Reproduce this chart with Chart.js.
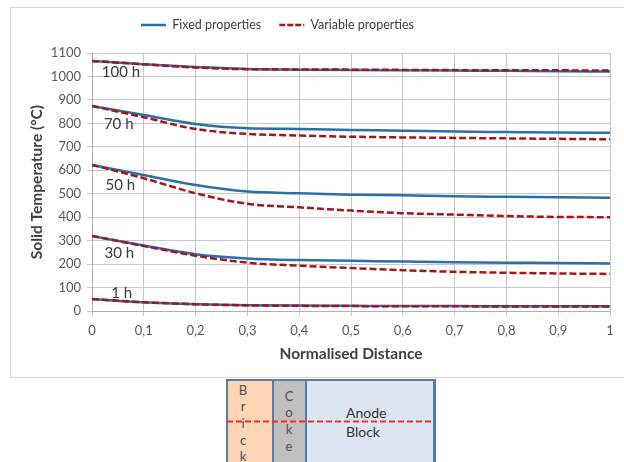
<!DOCTYPE html>
<html>
<head>
<meta charset="utf-8">
<script src="https://cdn.jsdelivr.net/npm/chart.js@4/dist/chart.umd.min.js"></script>
<style>
  html, body { margin: 0; padding: 0; background: #fff; width: 624px; height: 462px; overflow: hidden; position: relative; font-family: Lato, "Open Sans", sans-serif; }
  #frame { position: absolute; left: 10px; top: 7px; width: 640px; height: 369px; border: 1px solid #d9d9d9; }
  #wrap { position: absolute; left: 0; top: 0; width: 624px; height: 378px; }
  .box { position: absolute; top: 379px; height: 100px; box-sizing: border-box; border: 2px solid #5b7aa6; }
  .vl { position: absolute; width: 12px; text-align: center; font-size: 13px; color: #505050; }
  .dl { position: absolute; font-size: 14px; color: #333; }
</style>
</head>
<body>
<div id="frame"></div>
<div id="wrap"><canvas id="c" width="624" height="378"></canvas></div>

<!-- cross-section sketch under the chart -->
<div class="box" style="left:226px; width:48px; background:#fcd5b4;"></div>
<div class="box" style="left:272px; width:35px; background:#bfbfbf;"></div>
<div class="box" style="left:305px; width:131px; background:#dce6f2; border-right-width:3px;"></div>
<div class="vl" style="left:237px; top:382px;">B</div>
<div class="vl" style="left:237px; top:398px;">r</div>
<div class="vl" style="left:237px; top:415px;">i</div>
<div class="vl" style="left:237px; top:432px;">c</div>
<div class="vl" style="left:237px; top:448px;">k</div>
<div class="vl" style="left:283px; top:388px;">C</div>
<div class="vl" style="left:283px; top:404px;">o</div>
<div class="vl" style="left:283px; top:421px;">k</div>
<div class="vl" style="left:283px; top:438px;">e</div>
<div class="dl" style="left:346px; top:404px;">Anode</div>
<div class="dl" style="left:346px; top:423px;">Block</div>
<svg style="position:absolute; left:0; top:0;" width="624" height="462">
  <line x1="227" y1="421.5" x2="434" y2="421.5" stroke="#ff2a2a" stroke-width="2" stroke-dasharray="6,3"/>
</svg>

<script>
// ---- data ----
const distance = [0, 0.1, 0.2, 0.3, 0.4, 0.5, 0.6, 0.7, 0.8, 0.9, 1];

const fixed100 = [1066, 1052, 1040, 1032, 1029, 1027, 1026, 1025, 1024, 1022, 1021];
const var100   = [1066, 1052, 1038, 1031, 1030, 1029, 1028, 1027, 1026, 1026, 1025];
const fixed70  = [874, 836, 797, 779, 776, 772, 769, 765, 763, 761, 760];
const var70    = [874, 826, 776, 755, 748, 743, 740, 738, 736, 734, 732];
const fixed50  = [623, 580, 537, 509, 502, 496, 493, 489, 487, 485, 483];
const var50    = [623, 566, 502, 457, 442, 428, 417, 411, 405, 401, 400];
const fixed30  = [320, 279, 242, 224, 217, 214, 211, 208, 206, 205, 203];
const var30    = [320, 277, 236, 206, 193, 183, 174, 167, 163, 160, 158];
const fixed1   = [51, 37, 29, 25, 23, 22, 21, 21, 20, 20, 20];
const var1     = [51, 37, 29, 24, 22, 21, 20, 20, 19, 19, 19];

const curveLabels = ["100 h", "70 h", "50 h", "30 h", "1 h"];
const curveLabelX = [0.019, 0.023, 0.026, 0.024, 0.037];
const curveLabelY = [1019, 797, 535, 247, 78];

const seriesNames = ["Fixed properties", "Variable properties"];
const yTicks = [0, 100, 200, 300, 400, 500, 600, 700, 800, 900, 1000, 1100];

// ---- styling ----
const BLUE = "#2b6fac";
const RED = "#a3161c";
const pts = arr => arr.map((v, i) => ({ x: distance[i], y: v }));

function fixedSet(arr) {
  return { label: seriesNames[0], data: pts(arr), borderColor: BLUE, borderWidth: 2.5,
           pointRadius: 0, cubicInterpolationMode: "monotone", fill: false };
}
function varSet(arr) {
  return { label: seriesNames[1], data: pts(arr), borderColor: RED, borderWidth: 2.5,
           borderDash: [7, 3], pointRadius: 0, cubicInterpolationMode: "monotone", fill: false };
}

// variable-property sets first so they are painted on top of the solid lines
const datasets = [
  varSet(var100), varSet(var70), varSet(var50), varSet(var30), varSet(var1),
  fixedSet(fixed100), fixedSet(fixed70), fixedSet(fixed50), fixedSet(fixed30), fixedSet(fixed1)
];

const curveLabelPlugin = {
  id: "curveLabels",
  afterDatasetsDraw(chart) {
    const { ctx, scales } = chart;
    ctx.save();
    ctx.font = "15px Lato";
    ctx.fillStyle = "#3a3a3a";
    ctx.textAlign = "left";
    ctx.textBaseline = "middle";
    curveLabels.forEach((t, i) => {
      ctx.fillText(t, scales.x.getPixelForValue(curveLabelX[i]), scales.y.getPixelForValue(curveLabelY[i]));
    });
    ctx.restore();
  }
};

const legendPlace = {
  id: "legendPlace",
  afterLayout(chart) {
    const lg = chart.legend;
    if (!lg) return;
    lg.left = 20; lg.right = 535; lg.top = 0.75; lg.bottom = 41;
  }
};

const GRID = "#c9c9c9";

new Chart(document.getElementById("c"), {
  type: "line",
  data: { datasets },
  plugins: [curveLabelPlugin, legendPlace],
  options: {
    responsive: false,
    animation: false,
    events: [],
    layout: { padding: { left: 11, right: 14, top: 12.5, bottom: 8 } },
    plugins: {
      tooltip: { enabled: false },
      legend: {
        position: "top",
        labels: {
          font: { family: "Lato", size: 12.5 },
          color: "#404040",
          padding: 18,
          usePointStyle: true,
          pointStyleWidth: 25,
          generateLabels: () => [
            { text: seriesNames[0], strokeStyle: BLUE, fillStyle: BLUE, lineWidth: 2.5, lineDash: [], pointStyle: "line", hidden: false, datasetIndex: 5, fontColor: "#404040" },
            { text: seriesNames[1], strokeStyle: RED, fillStyle: RED, lineWidth: 2.5, lineDash: [6, 2], pointStyle: "line", hidden: false, datasetIndex: 0, fontColor: "#404040" }
          ]
        }
      }
    },
    scales: {
      x: {
        type: "linear", min: 0, max: 1,
        afterFit: s => { s.height = 59; },
        ticks: {
          stepSize: 0.1, padding: 7, color: "#595959",
          font: { family: "Lato", size: 13 },
          callback: v => {
            const r = Math.round(v * 10) / 10;
            return r === 0 ? "0" : r === 1 ? "1" : r.toFixed(1).replace(".", ",");
          }
        },
        grid: { color: GRID, tickLength: 5, lineWidth: 1 },
        border: { color: "#b0b0b0" },
        title: { display: true, text: "Normalised Distance", color: "#404040",
                 font: { family: "Lato", size: 15.5, weight: "bold" }, padding: { top: 0, bottom: 7 } }
      },
      y: {
        min: 0, max: 1100,
        afterFit: s => { s.width = 81; },
        afterBuildTicks: s => { s.ticks = yTicks.map(v => ({ value: v })); },
        ticks: { padding: 6, color: "#595959", font: { family: "Lato", size: 13 },
                 callback: v => String(v) },
        grid: { color: GRID, tickLength: 5, lineWidth: 1 },
        border: { color: "#b0b0b0" },
        title: { display: true, text: "Solid Temperature (°C)", color: "#404040",
                 font: { family: "Lato", size: 15.5, weight: "bold" }, padding: { top: 17, bottom: 0 } }
      }
    }
  }
});
</script>
</body>
</html>
